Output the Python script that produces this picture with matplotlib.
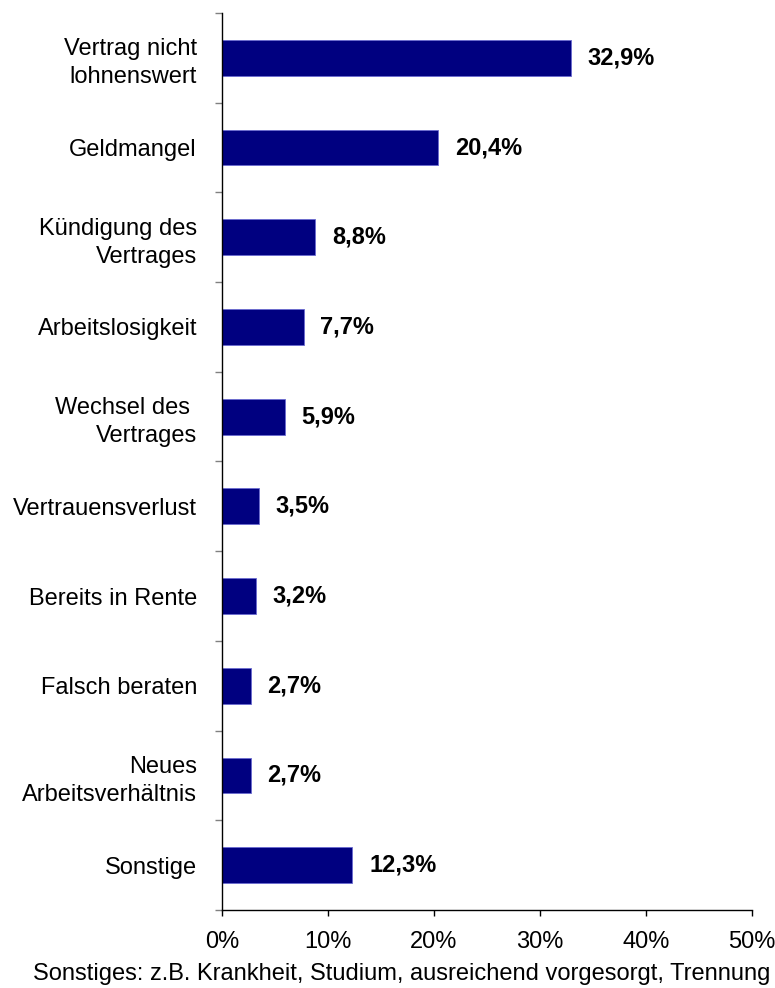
import matplotlib
matplotlib.use('Agg')
import matplotlib.pyplot as plt
import numpy as np

plt.rcParams['font.family'] = ['Liberation Sans', 'DejaVu Sans']

# Data
categories = ['Vertrag nicht\nlohnenswert', 'Geldmangel', 'Kündigung des\nVertrages',
              'Arbeitslosigkeit', 'Wechsel des \nVertrages', 'Vertrauensverlust',
              'Bereits in Rente', 'Falsch beraten', 'Neues\nArbeitsverhältnis', 'Sonstige']
values = [32.9, 20.4, 8.8, 7.7, 5.9, 3.5, 3.2, 2.7, 2.7, 12.3]
value_labels = ['32,9%', '20,4%', '8,8%', '7,7%', '5,9%', '3,5%', '3,2%', '2,7%', '2,7%', '12,3%']
x_ticks = [0, 10, 20, 30, 40, 50]
x_tick_labels = ['0%', '10%', '20%', '30%', '40%', '50%']
footnote = 'Sonstiges: z.B. Krankheit, Studium, ausreichend vorgesorgt, Trennung'

fs = 17

fig = plt.figure(figsize=(7.75, 9.88), dpi=100)
ax = fig.add_axes([222 / 775, 1 - 910 / 988, 530 / 775, 897 / 988])

y = np.arange(len(categories))
ax.barh(y, values, height=0.4, color='#000080', edgecolor='#6a6ad0', linewidth=0.6)

for yi, v, lab in zip(y, values, value_labels):
    ax.annotate(lab, (v, yi), xytext=(12, 0), textcoords='offset points',
                ha='left', va='center', fontsize=fs, fontweight='bold')

ax.set_ylim(len(categories) - 0.5, -0.5)
ax.set_xlim(0, 50)

ax.set_yticks(y)
ax.set_yticklabels(categories, fontsize=fs, multialignment='right', linespacing=1.35)
ax.tick_params(axis='y', which='major', length=0, pad=18)
ax.set_yticks(np.arange(-0.5, len(categories), 1), minor=True)
ax.tick_params(axis='y', which='minor', length=5, color='#808080', width=1)

ax.set_xticks(x_ticks)
ax.set_xticklabels(x_tick_labels, fontsize=fs)
ax.tick_params(axis='x', length=4, width=1, pad=11)

for s in ['top', 'right']:
    ax.spines[s].set_visible(False)
for s in ['left', 'bottom']:
    ax.spines[s].set_linewidth(1)
    ax.spines[s].set_color('black')

fig.text(402 / 775, 1 - 974 / 988, footnote, ha='center', va='center', fontsize=fs)

plt.savefig('out.png', dpi=100)
